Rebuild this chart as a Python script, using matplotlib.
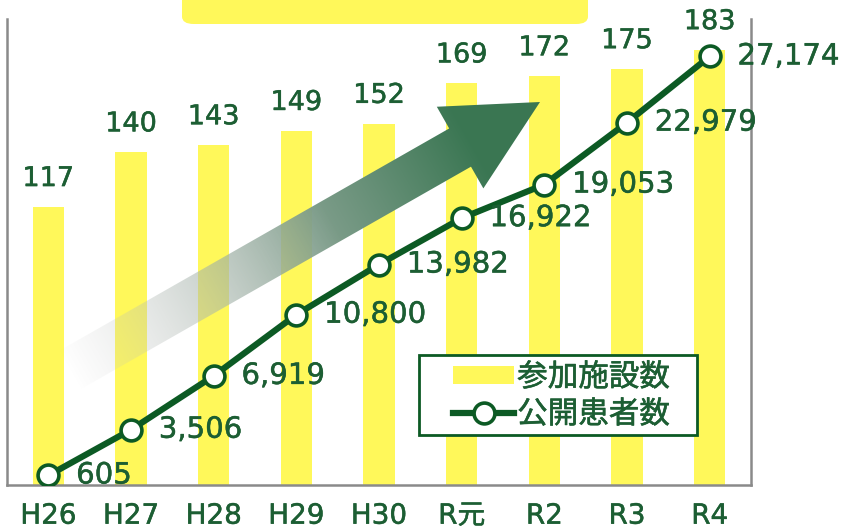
import numpy as np
import matplotlib
matplotlib.use("Agg")
import matplotlib.pyplot as plt
from matplotlib.patches import FancyBboxPatch, Polygon, Patch, Rectangle
from matplotlib.lines import Line2D
import matplotlib.patheffects as pe

plt.rcParams['font.family'] = ['DejaVu Sans', 'Noto Sans CJK JP']

# ---- data ----
years = ["H26", "H27", "H28", "H29", "H30", "R元", "R2", "R3", "R4"]
facilities = [117, 140, 143, 149, 152, 169, 172, 175, 183]
patients = [605, 3506, 6919, 10800, 13982, 16922, 19053, 22979, 27174]
legend_labels = ["参加施設数", "公開患者数"]

GREEN_TXT = "#1c5e33"
GREEN_LINE = "#0c5a24"
YELLOW = "#fff85a"
GRAY = "#8a8a8a"

W, H = 841, 530
fig = plt.figure(figsize=(W / 100, H / 100), dpi=100)

def fx(px):
    return px / W

def fy(py):
    return 1 - py / H

thick = [pe.withStroke(linewidth=0.35, foreground=GREEN_TXT)]

left, right, top, bottom = 7, 751, 19, 485
ax = fig.add_axes([fx(left), fy(bottom), fx(right - left), (bottom - top) / H])
ax.set_zorder(0)

x = np.arange(len(years))
ax.bar(x, facilities, width=0.38, color=YELLOW, zorder=2)
ax.set_xlim(-0.5, len(years) - 0.5)
ax.set_ylim(0, 196)
ax.set_yticks([])
ax.set_xticks(x)
ax.set_xticklabels(years, fontsize=20, color=GREEN_TXT)
for tl in ax.get_xticklabels():
    tl.set_path_effects(thick)
ax.tick_params(axis='x', length=0, pad=12)
for s in ["left", "right", "bottom"]:
    ax.spines[s].set_color(GRAY)
    ax.spines[s].set_linewidth(1.8)
ax.spines["top"].set_visible(False)

for xi, v in zip(x, facilities):
    ax.annotate(f"{v}", (xi, v), xytext=(0, 20), textcoords="offset points",
                ha="center", va="center", fontsize=19.5, color=GREEN_TXT,
                path_effects=thick)

# ---- gradient arrow overlay ----
ov = fig.add_axes([0, 0, 1, 1])
ov.set_zorder(1)
ov.patch.set_alpha(0)
ov.axis("off")

T = np.array([70.0, 370.0])
P = np.array([540.0, 102.0])
u = (P - T) / np.linalg.norm(P - T)
n = np.array([-u[1], u[0]])
L = np.linalg.norm(P - T)
hl, hw, sw = 92.0, 47.0, 22.0
B = P - hl * u
pts = [T + sw * n, B + sw * n, B + hw * n, P, B - hw * n, B - sw * n, T - sw * n]
poly = Polygon(pts, closed=True, facecolor="none", edgecolor="none")
ov.add_patch(poly)

gx, gy = np.meshgrid(np.arange(0, W) + 0.5, np.arange(0, H) + 0.5)
t = ((gx - T[0]) * u[0] + (gy - T[1]) * u[1]) / L
t = np.clip(t, 0, 1)
c0 = np.array([0.78, 0.78, 0.78])
c1 = np.array([0.23, 0.465, 0.325])
s = np.clip(t / 0.85, 0, 1) ** 1.4
img = np.zeros((H, W, 4))
for k in range(3):
    img[..., k] = c0[k] * (1 - s) + c1[k] * s
img[..., 3] = np.clip(t * 1.8, 0, 1) ** 0.9
im = ov.imshow(img, extent=(0, W, H, 0), origin="upper", interpolation="bilinear")
im.set_clip_path(poly)
ov.set_xlim(0, W)
ov.set_ylim(H, 0)

# top yellow rounded banner
banner = FancyBboxPatch((fx(182), fy(24)), fx(406), 40 / H,
                        boxstyle="round,pad=0,rounding_size=0.014",
                        transform=fig.transFigure, facecolor=YELLOW,
                        edgecolor="none")
fig.patches.append(banner)

# ---- line on twin axis ----
ax2 = ax.twinx()
ax2.set_zorder(2)
ax2.patch.set_alpha(0)
ax2.set_ylim(0, 29550)
ax2.set_yticks([])
for s_ in ax2.spines.values():
    s_.set_visible(False)
ax2.plot(x, patients, color=GREEN_LINE, linewidth=4.5, marker="o",
         markersize=15, markerfacecolor="white", markeredgecolor=GREEN_LINE,
         markeredgewidth=2.6, zorder=3)
for xi, v in zip(x, patients):
    ax2.annotate(f"{v:,}", (xi, v), xytext=(20, 0), textcoords="offset points",
                 ha="left", va="center", fontsize=21, color=GREEN_TXT,
                 path_effects=thick)

# legend frame + legend
frame = Rectangle((fx(419), fy(435)), fx(697 - 419), (435 - 355) / H,
                  transform=fig.transFigure, facecolor="white",
                  edgecolor=GREEN_LINE, linewidth=2, zorder=10)
handles = [Patch(facecolor=YELLOW, edgecolor="none"),
           Line2D([0], [0], color=GREEN_LINE, linewidth=4.5, marker="o",
                  markersize=15, markerfacecolor="white",
                  markeredgecolor=GREEN_LINE, markeredgewidth=2.6)]
leg = ax2.legend(handles, legend_labels, loc="center left",
                 bbox_to_anchor=(fx(453), fy(396)), bbox_transform=fig.transFigure,
                 frameon=False, borderaxespad=0, borderpad=0,
                 prop={"family": ["Noto Sans CJK JP"], "size": 22},
                 handlelength=2.0, handleheight=0.55, handletextpad=0.1,
                 labelspacing=0.2)
leg.set_zorder(11)
ax2.add_artist(frame)
frame.set_clip_on(False)
for txt in leg.get_texts():
    txt.set_color(GREEN_TXT)
    txt.set_path_effects([pe.withStroke(linewidth=0.4, foreground=GREEN_TXT)])

fig.savefig("out.png", dpi=100)
